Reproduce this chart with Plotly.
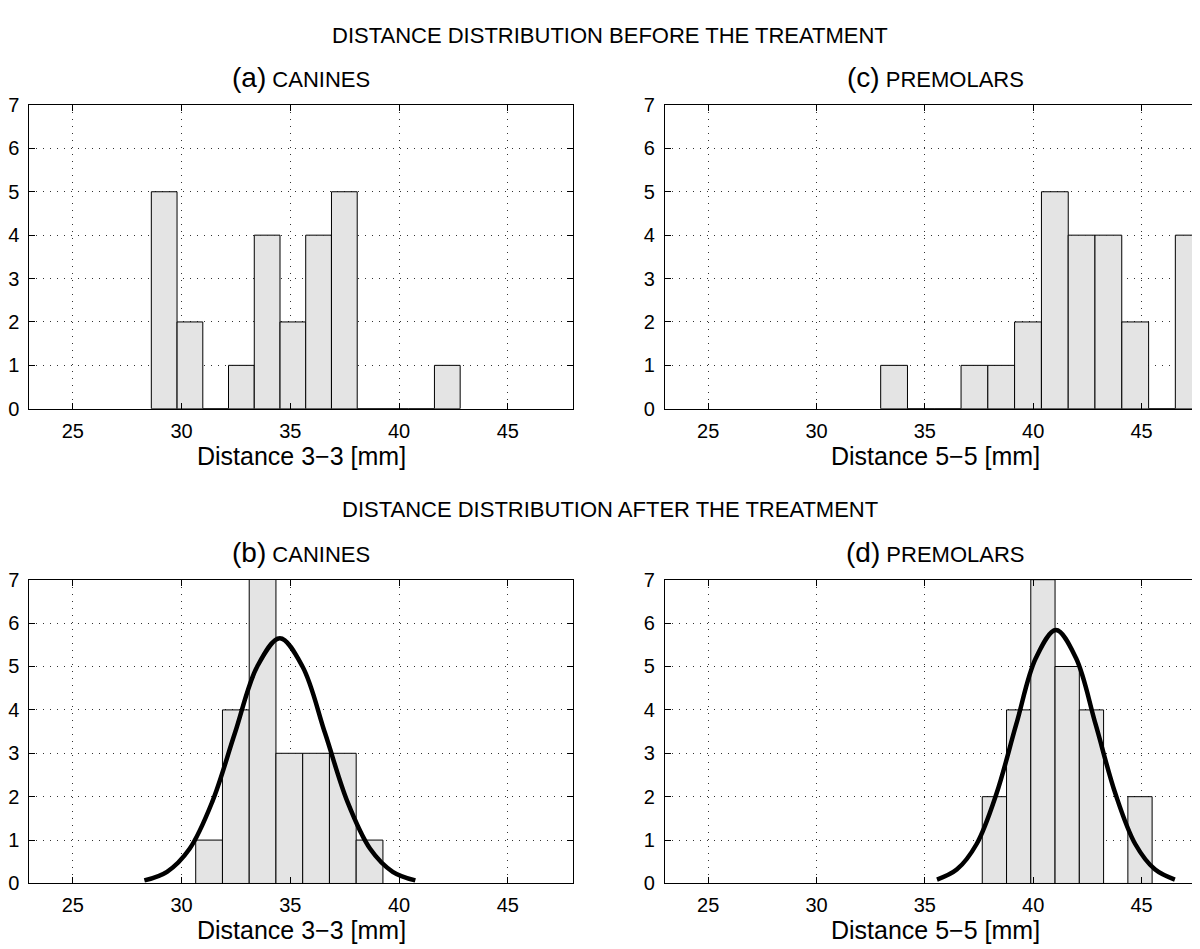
import plotly.graph_objects as go
from plotly.subplots import make_subplots

# ---------------- data ----------------
x_ticks = [25, 30, 35, 40, 45]
y_ticks = [0, 1, 2, 3, 4, 5, 6, 7]

# (a) canines, before treatment
a_centers = [29.20, 30.385, 31.57, 32.75, 33.935, 35.12, 36.30, 37.485, 38.67, 39.85, 41.035, 42.22]
a_counts = [5, 2, 0, 1, 4, 2, 4, 5, 0, 0, 0, 1]
a_width = 1.183

# (c) premolars, before treatment
c_centers = [33.58, 34.815, 36.05, 37.29, 38.525, 39.76, 41.00, 42.235, 43.47, 44.71, 45.945, 47.18]
c_counts = [1, 0, 0, 1, 1, 2, 5, 4, 4, 2, 0, 4]
c_width = 1.237

# (b) canines, after treatment
b_centers = [31.265, 32.495, 33.725, 34.955, 36.185, 37.415, 38.645]
b_counts = [1, 4, 9, 3, 3, 3, 1]
b_width = 1.23
b_curve_x = [28.29, 29.33, 30.37, 31.41, 32.45, 33.48, 34.52, 35.56, 36.60, 37.63, 38.67, 39.71, 40.75]
b_curve_y = [0.07, 0.27, 0.80, 1.88, 3.46, 5.00, 5.65, 5.00, 3.46, 1.88, 0.80, 0.27, 0.07]

# (d) premolars, after treatment
d_centers = [38.21, 39.33, 40.45, 41.57, 42.69, 43.81, 44.93]
d_counts = [2, 4, 7, 5, 4, 0, 2]
d_width = 1.12
d_curve_x = [35.56, 36.47, 37.39, 38.30, 39.22, 40.13, 41.05, 41.97, 42.88, 43.80, 44.71, 45.63, 46.54]
d_curve_y = [0.09, 0.32, 0.91, 2.06, 3.67, 5.20, 5.84, 5.20, 3.67, 2.06, 0.91, 0.32, 0.09]

# ---------------- figure ----------------
W, H = 1200, 949
FONT = "Liberation Sans, Arial, Helvetica, sans-serif"
BAR_FILL = "#e4e4e4"

fig = make_subplots(rows=2, cols=2)

def add_hist(row, col, centers, counts, width):
    fig.add_trace(go.Bar(x=centers, y=counts, width=width,
                         marker=dict(color=BAR_FILL, line=dict(color="black", width=1)),
                         showlegend=False, hoverinfo="x+y"), row=row, col=col)

def add_curve(row, col, xs, ys):
    fig.add_trace(go.Scatter(x=xs, y=ys, mode="lines",
                             line=dict(color="black", width=4.5, shape="spline"),
                             showlegend=False), row=row, col=col)

add_hist(1, 1, a_centers, a_counts, a_width)
add_hist(1, 2, c_centers, c_counts, c_width)
add_hist(2, 1, b_centers, b_counts, b_width)
add_curve(2, 1, b_curve_x, b_curve_y)
add_hist(2, 2, d_centers, d_counts, d_width)
add_curve(2, 2, d_curve_x, d_curve_y)

# pixel layout -> paper domains
left_x = [18.4 / W, 563.4 / W]
right_x = [655.5 / W, 1198.5 / W]
top_y = [1 - 399 / H, 1 - 88 / H]
bot_y = [1 - 885 / H, 1 - 574 / H]

axis_common = dict(
    showline=True, linecolor="black", linewidth=1, mirror="ticks",
    ticks="inside", ticklen=6, tickcolor="black", tickwidth=1,
    showgrid=True, gridcolor="#333333", gridwidth=1, griddash="1px,6px",
    zeroline=False, tickfont=dict(family=FONT, size=20, color="black"),
)

for i, (xd, yd) in enumerate([(left_x, top_y), (right_x, top_y), (left_x, bot_y), (right_x, bot_y)], start=1):
    xa = "xaxis" if i == 1 else f"xaxis{i}"
    ya = "yaxis" if i == 1 else f"yaxis{i}"
    fig.layout[xa].update(domain=xd, range=[23, 48], tickmode="array", tickvals=x_ticks,
                          ticklabelstandoff=4, **axis_common)
    fig.layout[ya].update(domain=yd, range=[0, 7], tickmode="array", tickvals=y_ticks,
                          ticklabelstandoff=5, **axis_common)

def ann(text, x, y_px, size):
    fig.add_annotation(text=text, x=x, y=1 - y_px / H, xref="paper", yref="paper",
                       xanchor="center", yanchor="middle", showarrow=False,
                       font=dict(family=FONT, size=size, color="black"))

lc = (left_x[0] + left_x[1]) / 2
rc = (right_x[0] + right_x[1]) / 2

ann("DISTANCE DISTRIBUTION BEFORE THE TREATMENT", 0.5, 17, 22)
ann("DISTANCE DISTRIBUTION AFTER THE TREATMENT", 0.5, 502, 22)
ann('<span style="font-size:28px">(a)</span> CANINES', lc, 60, 22)
ann('<span style="font-size:28px">(c)</span> PREMOLARS', rc, 60, 22)
ann('<span style="font-size:28px">(b)</span> CANINES', lc, 546, 22)
ann('<span style="font-size:28px">(d)</span> PREMOLARS', rc, 546, 22)
ann("Distance 3\u22123 [mm]", lc, 447, 25)
ann("Distance 5\u22125 [mm]", rc, 447, 25)
ann("Distance 3\u22123 [mm]", lc, 933, 25)
ann("Distance 5\u22125 [mm]", rc, 933, 25)

fig.update_layout(
    width=W, height=H, autosize=False,
    margin=dict(l=0, r=0, t=0, b=0),
    paper_bgcolor="white", plot_bgcolor="white",
    barmode="overlay", showlegend=False,
    font=dict(family=FONT, color="black"),
)

fig.write_html("out.html")
